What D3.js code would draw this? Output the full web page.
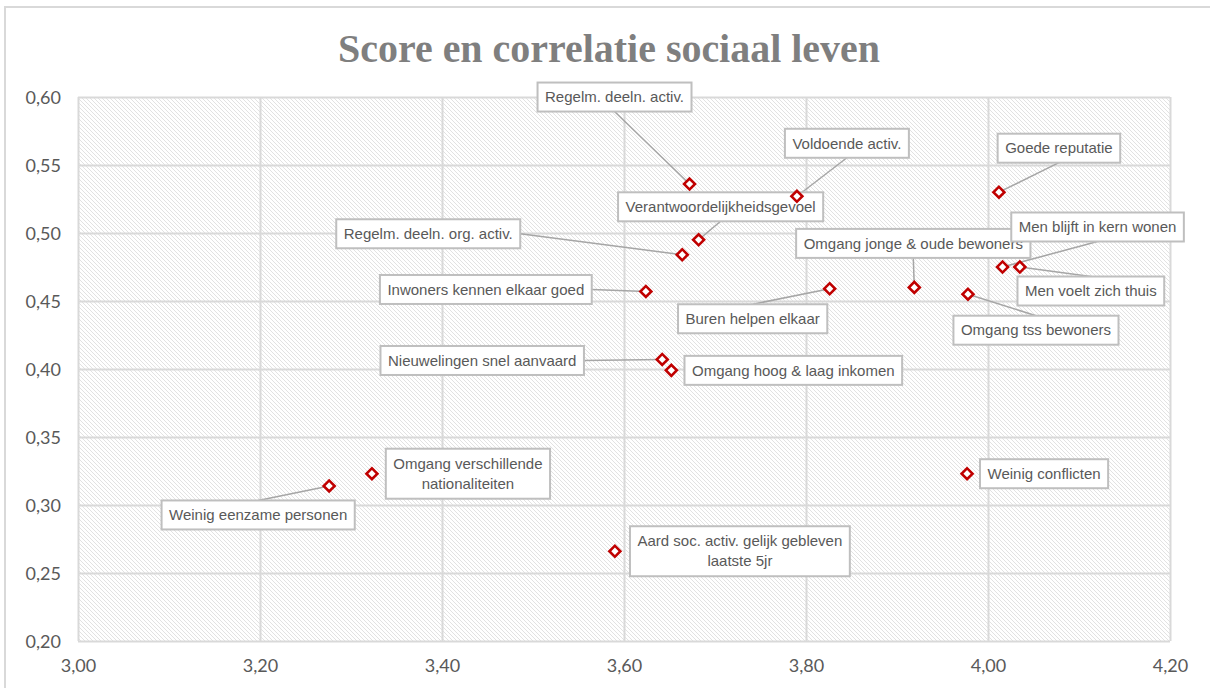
<!DOCTYPE html>
<html><head><meta charset="utf-8">
<script src="https://cdn.jsdelivr.net/npm/d3@7"></script>
<style>html,body{margin:0;padding:0;background:#fff;}svg{display:block;}</style>
</head><body>
<svg id="chart" width="1210" height="688"></svg>
<script>
// ---- data ----
const labels = [
  "Regelm. deeln. activ.",
  "Voldoende activ.",
  "Goede reputatie",
  "Verantwoordelijkheidsgevoel",
  "Regelm. deeln. org. activ.",
  "Omgang jonge & oude bewoners",
  "Men blijft in kern wonen",
  "Men voelt zich thuis",
  "Omgang tss bewoners",
  "Inwoners kennen elkaar goed",
  "Buren helpen elkaar",
  "Nieuwelingen snel aanvaard",
  "Omgang hoog & laag inkomen",
  "Omgang verschillende\nnationaliteiten",
  "Weinig eenzame personen",
  "Aard soc. activ. gelijk gebleven\nlaatste 5jr",
  "Weinig conflicten"
];
const scores = [3.672, 3.790, 4.012, 3.682, 3.664, 3.919, 4.016, 4.035, 3.978, 3.624, 3.826, 3.642, 3.652, 3.323, 3.276, 3.590, 3.977];
const correlations = [0.536, 0.527, 0.530, 0.495, 0.484, 0.460, 0.475, 0.475, 0.455, 0.457, 0.459, 0.407, 0.399, 0.323, 0.314, 0.266, 0.323];
const xTicks = [3.0, 3.2, 3.4, 3.6, 3.8, 4.0, 4.2];
const yTicks = [0.20, 0.25, 0.30, 0.35, 0.40, 0.45, 0.50, 0.55, 0.60];
const title = "Score en correlatie sociaal leven";

// ---- label layout (pixel offsets of box centre from its point, leader anchor side) ----
const labelDx = [-75, 50, 60, 22, -254, -1, 95, 71, 68, -160, -77, -180, 122, 96, -71, 125, 77];
const labelDy = [-87, -53, -44, -33, -21, -44, -40, 24, 36, -2, 30, 1, 0, 0, 29, 0, 0];
const leaderSide = ["b", "b", "b", "b", "r", "b", "b", "t", "t", "r", "t", "r", null, null, "t", null, null];

// ---- drawing ----
const svg = d3.select("#chart");
const W = 1210, H = 688;
const x = d3.scaleLinear().domain([3.0, 4.2]).range([78, 1170]);
const y = d3.scaleLinear().domain([0.20, 0.60]).range([641, 97]);
const fmt = v => d3.format(".2f")(v).replace(".", ",");

const defs = svg.append("defs");
const pat = defs.append("pattern").attr("id", "hatch").attr("patternUnits", "userSpaceOnUse")
  .attr("width", 4).attr("height", 4);
pat.append("rect").attr("width", 4).attr("height", 4).attr("fill", "#fff");
pat.append("path").attr("d", "M-1,-1L5,5M3,-1L5,1M-1,3L1,5")
  .attr("stroke", "#e2e2e2").attr("stroke-width", 1);

// chart border
svg.append("rect").attr("x", 5).attr("y", 7).attr("width", W + 10).attr("height", H + 10)
  .attr("fill", "#fff").attr("stroke", "#d9d9d9").attr("stroke-width", 2);

// plot area
svg.append("rect").attr("x", x(3.0)).attr("y", y(0.60))
  .attr("width", x(4.2) - x(3.0)).attr("height", y(0.20) - y(0.60))
  .attr("fill", "url(#hatch)");

// gridlines via axes
const gx = svg.append("g").attr("transform", `translate(0,${y(0.20)})`)
  .call(d3.axisBottom(x).tickValues(xTicks).tickSize(-(y(0.20) - y(0.60))).tickFormat(fmt).tickPadding(14));
const gy = svg.append("g").attr("transform", `translate(${x(3.0)},0)`)
  .call(d3.axisLeft(y).tickValues(yTicks).tickSize(-(x(4.2) - x(3.0))).tickFormat(fmt).tickPadding(17));
[gx, gy].forEach(g => {
  g.select(".domain").remove();
  g.selectAll(".tick line").attr("stroke", "#d9d9d9").attr("stroke-width", 2);
  g.selectAll(".tick text").attr("fill", "#595959").attr("font-family", "Lato, 'Open Sans', sans-serif")
    .attr("font-size", 18);
});
gx.selectAll(".tick text").attr("dy", "0.95em");
gy.selectAll(".tick text").attr("dy", "0.35em");

// title
const t = svg.append("text").attr("x", 609).attr("y", 62).attr("text-anchor", "middle")
  .attr("font-family", "'Liberation Serif', 'DejaVu Serif', serif").attr("font-weight", "bold")
  .attr("font-size", 34).attr("fill", "#7f7f7f").text(title);
const tl = t.node().getComputedTextLength();
if (tl > 0) t.attr("font-size", 34 * 542 / tl);

// labels
const points = labels.map((l, i) => ({ label: l, sx: scores[i], cy: correlations[i], i }));
const gLeaders = svg.append("g");
const gLabels = svg.append("g");
const gMarkers = svg.append("g");

points.forEach(p => {
  const px = x(p.sx), py = y(p.cy);
  const cx = px + labelDx[p.i], cyy = py + labelDy[p.i];
  const lines = p.label.split("\n");
  const lh = 20;
  const g = gLabels.append("g");
  const rect = g.append("rect");
  const txt = g.append("text").attr("text-anchor", "middle")
    .attr("font-family", "'Liberation Sans', Arial, sans-serif").attr("font-size", 15)
    .attr("fill", "#595959");
  lines.forEach((ln, k) => {
    txt.append("tspan").attr("x", cx)
      .attr("y", cyy + (k - (lines.length - 1) / 2) * lh).attr("dy", "0.35em").text(ln);
  });
  let tw = 0;
  txt.selectAll("tspan").each(function () { tw = Math.max(tw, this.getComputedTextLength()); });
  const bw = tw + 15, bh = lines.length === 1 ? 29 : 50;
  rect.attr("x", cx - bw / 2).attr("y", cyy - bh / 2).attr("width", bw).attr("height", bh)
    .attr("fill", "#fff").attr("stroke", "#bfbfbf").attr("stroke-width", 2);
  const side = leaderSide[p.i];
  if (side) {
    let ax = cx, ay = cyy;
    if (side === "b") ay = cyy + bh / 2;
    if (side === "t") ay = cyy - bh / 2;
    if (side === "r") ax = cx + bw / 2;
    if (side === "l") ax = cx - bw / 2;
    gLeaders.append("line").attr("x1", ax).attr("y1", ay).attr("x2", px).attr("y2", py)
      .attr("stroke", "#a6a6a6").attr("stroke-width", 1.5);
  }
});

gMarkers.selectAll("path").data(points).join("path")
  .attr("d", d3.symbol().type(d3.symbolSquare).size(60))
  .attr("transform", d => `translate(${x(d.sx)},${y(d.cy)}) rotate(45)`)
  .attr("fill", "#fff").attr("stroke", "#c00000").attr("stroke-width", 2.6);
</script>
</body></html>
